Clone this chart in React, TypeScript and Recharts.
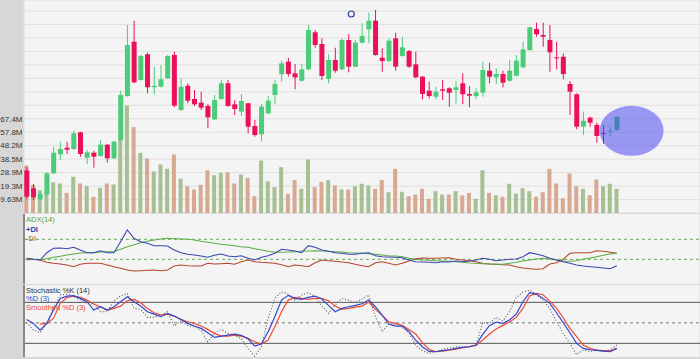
import React from 'react';
import { ComposedChart, LineChart, Bar, Line, XAxis, YAxis, CartesianGrid, Cell, ReferenceDot, ReferenceLine } from 'recharts';

const opens = [24.35,22.57,21.50,21.97,24.07,25.97,26.63,26.50,28.17,25.63,26.13,25.80,26.93,25.57,27.40,31.80,37.23,33.40,35.97,32.67,32.73,33.57,35.90,30.40,32.83,31.50,31.13,30.80,29.47,31.50,33.07,30.97,30.23,31.07,28.80,27.97,30.07,31.90,33.97,35.23,34.07,33.33,34.47,38.17,37.00,33.50,35.40,34.47,37.40,34.73,37.13,38.47,39.33,35.63,35.30,37.57,35.80,36.30,34.97,33.73,32.33,31.73,32.47,32.57,32.40,33.07,32.00,31.80,32.13,34.33,33.67,34.00,33.33,33.83,34.67,36.40,38.50,37.90,37.40,35.67,35.73,33.00,31.97,28.73,29.63,28.90,28.10,28.27,28.40];
const highs = [24.70,23.00,22.23,24.20,26.70,27.23,27.23,28.33,28.23,26.40,26.33,27.40,27.00,27.33,32.33,38.90,39.33,35.90,36.13,34.73,34.90,35.90,36.23,33.57,33.07,32.40,32.23,31.00,31.90,33.40,33.40,31.40,32.00,31.10,29.40,31.00,31.80,33.40,35.33,35.63,35.00,35.00,38.90,38.40,37.57,35.97,36.63,37.57,37.97,37.40,39.07,40.13,40.40,36.57,37.57,38.13,37.73,36.40,36.23,33.80,33.23,32.73,33.40,32.67,33.30,34.07,32.80,32.57,35.23,35.13,34.57,34.33,35.40,35.90,37.23,38.73,39.13,39.13,38.90,37.23,36.07,33.30,32.07,30.23,29.73,29.13,28.90,28.73,29.73];
const lows = [21.50,21.40,21.40,21.90,24.00,25.40,26.00,26.40,25.73,25.00,24.63,25.73,25.13,25.50,27.33,31.73,33.07,33.33,32.07,31.97,32.67,33.50,30.67,30.30,31.07,30.80,30.40,28.57,29.40,31.40,30.73,29.90,29.80,28.07,27.73,27.23,30.00,31.00,33.23,33.73,32.47,33.23,34.40,36.63,33.40,33.07,34.13,34.33,34.17,34.67,37.07,37.07,35.83,34.23,35.17,34.33,35.73,34.63,33.57,31.47,31.57,31.47,31.40,30.73,31.07,31.00,30.67,31.47,31.73,33.07,33.00,32.67,33.23,33.73,34.57,36.33,37.73,36.73,34.23,34.47,33.47,29.90,28.47,27.90,28.73,27.13,27.00,27.73,28.30];
const closes = [21.73,21.67,21.97,24.07,26.13,26.50,26.43,28.07,26.00,26.17,25.73,26.93,25.57,27.23,31.90,36.90,33.17,35.80,32.67,32.83,33.47,35.80,30.83,32.73,31.33,30.97,30.63,29.67,31.40,33.07,30.80,30.50,31.30,28.73,27.90,30.73,31.33,33.00,35.07,34.00,33.67,34.47,38.40,36.90,33.80,35.40,34.33,37.40,34.73,37.13,37.80,39.33,35.90,35.30,37.33,34.73,36.67,34.73,33.67,32.00,31.80,32.23,32.33,32.13,32.67,31.97,31.83,32.17,34.40,33.73,34.00,33.13,34.33,35.33,36.47,38.67,37.97,37.73,36.17,35.57,34.00,32.23,28.73,29.33,29.13,27.80,28.03,28.33,29.73];
const volumesM = [34.0,20.0,16.3,15.0,22.0,21.1,14.4,25.9,21.1,19.2,11.6,18.0,21.1,20.4,52.6,76.9,61.4,43.0,39.0,29.7,34.7,31.6,41.8,24.5,19.2,16.8,20.2,30.6,27.0,28.7,29.2,21.1,27.5,25.2,12.0,37.5,22.7,18.5,32.8,13.7,23.5,17.3,38.3,18.5,22.3,23.5,19.7,16.8,16.8,19.2,20.9,19.7,17.3,23.5,14.9,31.6,15.2,12.0,13.2,17.3,10.2,15.6,13.2,13.2,15.6,12.5,14.4,10.2,30.6,14.4,12.7,11.6,20.9,13.9,17.7,15.6,11.6,14.9,31.6,21.1,10.6,28.2,19.2,17.3,12.7,24.0,19.2,20.9,17.3];

const adx = [21,20,19.3,20.6,22,23,24.3,25.3,26.3,26.6,26.6,27.3,27.6,27.6,30,32.6,34.6,36.6,38,39.3,40.3,41,40.6,40.3,40,39.3,38,37,36,35,34.3,33.6,32.6,32,30.6,29.3,28,27,27,27.3,27.6,28,28.3,28.6,28.3,28,27.6,27.3,26.6,26.3,26,25.6,25,24.3,23.6,23.3,22.6,21,20,19.3,19,18.6,18.3,18,17.6,17,16.3,16,15.6,15.3,15,15,16,17,18.3,19.3,20.3,21,20.3,19.3,18.3,18,18.6,20,21.3,22.6,24,25.3,26];
const plusDi = [21,20,19.3,26.6,31,31.3,30.6,32,29.3,26.6,26.6,28.6,26.6,26.6,37.6,49.3,41,37.6,36,33.6,33.6,33.3,29.3,26.6,25,24.3,23.3,22,24,25.3,23.3,22.6,23.6,21,19.3,22,23.6,26,30,29.3,28.3,26.6,33.6,32,29.3,28,26.6,26,25,25,26,26.6,23.6,22.6,22.3,22,21.6,19.3,17.6,17.3,17,16.6,17.6,17.3,18.3,17.6,18.3,19.3,21,20,18.6,19.3,20,20.3,22.6,26.6,25.3,23.6,21,19.3,17.6,16,14.3,13.3,12.6,12,11.3,10.6,13.6];
const minusDi = [19.3,20,19.3,17,16,15.3,14.3,12.6,15,16,16,16,14.3,12.6,11,9.3,8.3,8.6,9,9.3,8.6,9.3,13.3,14.3,13.6,13.3,13.3,16,15.3,15.6,16,15,17.6,19.3,17.6,17,16.6,16,14.6,12.6,14.3,13.6,12.6,16.6,19.3,18.6,18,17.3,16.6,15,13.6,12.6,16.6,17.6,16,14.3,16,18.3,20.6,21.3,21,21,21.3,21.6,20,19.3,18.6,17.6,16,15.3,15,14.6,14.3,12.6,11.3,10.6,10,10.6,15.3,16.6,20,26,26.6,26.6,26.6,28.6,28,27,26];

const stochK = [50.2,39.4,35.5,49.2,71.1,90.7,92.1,88.2,83.3,78.5,77.5,66.3,66.3,82.4,89.2,93.1,71.1,69.7,58,58,61.4,66.3,45.3,53.1,46.3,44.3,38.5,22.4,34.6,40.4,34.6,32.1,26.7,12.6,1.4,15,56.5,85.8,95.5,92.1,83.3,90.7,94.1,88.2,74.5,63.8,76,85.8,83.3,79.4,84.8,90.7,59,37,47.7,48.2,43.3,35.5,17.5,9.2,5.3,8.2,11.1,13.1,15,15,15,17.5,50.2,49.2,58,52.6,66.3,87.2,95,98,91.1,83.3,71.1,52.1,34.6,19.9,3.3,10.2,8.2,10.2,8.2,10.2,17.5];
const stochD = [55,49.2,39.4,49.2,68.7,85.8,89.2,89.7,85.8,80.9,68.7,73.6,68.7,73.6,80.9,88.2,80.9,74.5,66.3,62.8,59,63.8,59.9,55,49.2,45.3,41.9,35.5,28.7,30.6,32.1,33.6,31.6,26.7,16,18.9,37,59,83.3,90.2,85.8,84.3,87.2,89.2,84.8,75.5,66.3,71.1,73.6,75.5,78,83.3,73.6,61.4,48.2,45.3,45.3,37,24.8,15,8.2,7.7,9.2,10.6,12.6,14.1,15,17.5,33.1,45.8,51.1,49.2,54.1,62.8,80.9,94.1,92.1,85.8,78.5,64.8,50.2,35.5,19.9,12.6,10.6,9.7,8.7,7.7,12.6];
const stochSmoothD = [null,null,48.2,49.2,56.5,78.5,87.2,89.2,87.2,83.3,77.5,73.6,68.7,71.1,74.5,82.4,84.3,79.4,71.1,64.8,61.4,62.8,59.9,55,51.6,49.2,45.3,40.4,34.6,30.6,30.6,32.1,30.6,27.2,22.4,18.9,24.8,44.3,66.3,83.3,87.2,85.8,84.3,85.8,85.8,82.4,74.5,69.7,71.1,73.1,74.5,80.4,69.7,60.9,51.6,49.2,46.3,40.4,33.6,20.9,11.1,7.7,8.7,10.2,11.6,13.6,15,17,24.8,33.6,40.9,46.3,51.1,58,71.1,89.2,93.1,91.1,81.9,71.6,57.5,41.9,29.7,17.5,12.6,10.2,9.2,9.2,12.6];

// trading-day index where each week starts (vertical grid)
const weekStarts = [4, 9, 13, 17, 22, 26, 30, 35, 39, 43, 47, 52, 56, 61, 65, 69, 74, 78, 83, 87, 91, 96, 100];
const volTickValues = [9.63, 19.26, 28.89, 38.52, 48.15, 57.78, 67.41];
const volTickLabels = ['9.63M', '19.3M', '28.9M', '38.5M', '48.2M', '57.8M', '67.4M'];
const volGridTicks = Array.from({ length: 16 }, (_, k) => +(k * 9.63).toFixed(2));
const adxLevels = [20, 40];
const stochBands = [20, 80];
const stochMid = 50;
const eventMarker = { i: 48.4, price: 40.0 };
const highlight = { i: 90.2, price: 28.32 };

const GREEN = '#4ccc7a';
const RED = '#ea1059';
const VOL_UP = '#a6bf93';
const VOL_DOWN = '#d7a892';
const BG = '#f4f4f4';
const GRID = '#e0e0e0';
const FONT = '"Liberation Sans", Arial, sans-serif';
const X_DOMAIN: [number, number] = [-0.4, 100.4];

const rows = opens.map((o, i) => ({
  i,
  open: o,
  high: highs[i],
  low: lows[i],
  close: closes[i],
  vol: volumesM[i],
  up: i === 0 ? closes[i] >= o : closes[i] >= closes[i - 1],
  adx: adx[i],
  pdi: plusDi[i],
  mdi: minusDi[i],
  k: stochK[i],
  d: stochD[i],
  sd: stochSmoothD[i],
}));

function Candle(props: any) {
  const { x, y, width, height, payload } = props;
  if (x == null || y == null) return null;
  const top = Math.min(y, y + height);
  const h = Math.abs(height);
  const { open, close, high, low } = payload;
  const span = high - low || 1;
  const py = (v: number) => top + ((high - v) / span) * h;
  const color = close >= open ? GREEN : RED;
  const bTop = py(Math.max(open, close));
  const bBot = py(Math.min(open, close));
  const cx = x + width / 2;
  return (
    <g>
      <line x1={cx} x2={cx} y1={top} y2={top + h} stroke={color} strokeWidth={1} />
      <rect x={x} y={bTop} width={width} height={Math.max(1, bBot - bTop)} fill={color} />
    </g>
  );
}

const volLabel = (v: number) => {
  const idx = volTickValues.findIndex((t) => Math.abs(t - v) < 0.05);
  return idx >= 0 ? volTickLabels[idx] : '';
};

function VolTick(props: any) {
  const { y, payload } = props;
  const label = volLabel(payload.value);
  if (!label) return null;
  return (
    <text x={22.5} y={y} dy="0.35em" textAnchor="end" fontSize={8} fill="#333" fontFamily={FONT}>
      {label}
    </text>
  );
}

function Ellipse(props: any) {
  const { cx, cy } = props;
  return <ellipse cx={cx} cy={cy} rx={32} ry={25} fill="#3c3cf0" fillOpacity={0.5} />;
}

const legendStyle: React.CSSProperties = { position: 'absolute', left: 26, fontFamily: FONT, fontSize: 7.5, whiteSpace: 'nowrap' };

export default function App() {
  return (
    <div style={{ position: 'fixed', left: 0, top: 0, width: 700, height: 359, background: '#d7d7d7', overflow: 'hidden' }}>
      <div style={{ position: 'absolute', left: 0, top: 0 }}>
        <ComposedChart width={700} height={214} data={rows} margin={{ top: 0, right: 0, bottom: 1, left: 0 }}>
          <CartesianGrid xAxisId="c" yAxisId="vol" fill={BG} stroke={GRID} strokeWidth={1} />
          <XAxis xAxisId="c" dataKey="i" type="number" domain={X_DOMAIN} ticks={weekStarts} height={0} tick={false} tickLine={false} axisLine={{ stroke: '#a8a8a8', strokeWidth: 2 }} allowDataOverflow />
          <XAxis xAxisId="v" dataKey="i" type="number" domain={X_DOMAIN} hide allowDataOverflow />
          <YAxis yAxisId="vol" orientation="left" width={24} domain={[0, 152.3]} ticks={volGridTicks} tick={<VolTick />} tickSize={0} axisLine={{ stroke: '#888', strokeWidth: 2 }} tickLine={false} interval={0} allowDataOverflow />
          <YAxis yAxisId="price" hide domain={[20.1, 41.4]} allowDataOverflow />
          <Bar xAxisId="v" yAxisId="vol" dataKey="vol" barSize={4} isAnimationActive={false}>
            {rows.map((r) => (
              <Cell key={r.i} fill={r.up ? VOL_UP : VOL_DOWN} />
            ))}
          </Bar>
          <Bar xAxisId="c" yAxisId="price" dataKey={(d: any) => [d.low, d.high]} barSize={5} shape={Candle} isAnimationActive={false} />
          <ReferenceDot xAxisId="c" yAxisId="price" x={eventMarker.i} y={eventMarker.price} r={3} fill="none" stroke="#2d3f9e" strokeWidth={1.2} />
          <ReferenceDot xAxisId="c" yAxisId="price" x={highlight.i} y={highlight.price} r={25} shape={Ellipse} />
        </ComposedChart>
      </div>

      <div style={{ position: 'absolute', left: 0, top: 214 }}>
        <LineChart width={700} height={71} data={rows} margin={{ top: 0, right: 0, bottom: 1, left: 0 }}>
          <CartesianGrid horizontal={false} fill={BG} stroke={GRID} />
          <XAxis dataKey="i" type="number" domain={X_DOMAIN} ticks={weekStarts} height={0} tick={false} tickLine={false} axisLine={{ stroke: '#a8a8a8', strokeWidth: 2 }} allowDataOverflow />
          <YAxis width={24} domain={[-4.7, 65.3]} tick={false} tickLine={false} axisLine={{ stroke: '#888', strokeWidth: 2 }} allowDataOverflow />
          {adxLevels.map((lv) => (
            <ReferenceLine key={lv} y={lv} stroke="#6aa55a" strokeDasharray="3 3" />
          ))}
          <Line dataKey="mdi" stroke="#b8442f" strokeWidth={1.1} dot={false} isAnimationActive={false} />
          <Line dataKey="adx" stroke="#58ad48" strokeWidth={1.1} dot={false} isAnimationActive={false} />
          <Line dataKey="pdi" stroke="#3a46b0" strokeWidth={1.1} dot={false} isAnimationActive={false} />
        </LineChart>
        <div style={{ ...legendStyle, top: 1, lineHeight: '9.5px' }}>
          <div style={{ color: '#5a9e3a' }}>ADX(14)</div>
          <div style={{ color: '#2c3ea8', fontWeight: 'bold' }}>+DI</div>
          <div style={{ color: '#b5432e' }}>-DI</div>
        </div>
      </div>

      <div style={{ position: 'absolute', left: 0, top: 285 }}>
        <LineChart width={700} height={74} data={rows} margin={{ top: 0, right: 0, bottom: 2, left: 0 }}>
          <CartesianGrid horizontal={false} fill={BG} stroke={GRID} />
          <XAxis dataKey="i" type="number" domain={X_DOMAIN} ticks={weekStarts} height={0} tick={false} tickLine={false} axisLine={{ stroke: '#8a8a8a' }} allowDataOverflow />
          <YAxis width={24} domain={[0, 105.4]} tick={false} tickLine={false} axisLine={{ stroke: '#888', strokeWidth: 2 }} allowDataOverflow />
          {stochBands.map((lv) => (
            <ReferenceLine key={lv} y={lv} stroke="#555" strokeWidth={1} />
          ))}
          <ReferenceLine y={stochMid} stroke="#777" strokeDasharray="3 3" />
          <Line dataKey="k" stroke="#555" strokeWidth={1.1} strokeDasharray="1 2" dot={false} isAnimationActive={false} />
          <Line dataKey="sd" stroke="#ee4a35" strokeWidth={1.2} dot={false} isAnimationActive={false} />
          <Line dataKey="d" stroke="#3347cc" strokeWidth={1.2} dot={false} isAnimationActive={false} />
        </LineChart>
        <div style={{ ...legendStyle, top: 2, lineHeight: '8.3px' }}>
          <div style={{ color: '#333' }}>Stochastic %K (14)</div>
          <div style={{ color: '#3347cc' }}>%D (3)</div>
          <div style={{ color: '#e8452f' }}>Smoothed %D (3)</div>
        </div>
      </div>
    </div>
  );
}
